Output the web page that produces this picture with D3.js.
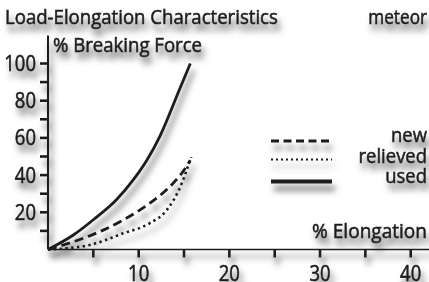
<!DOCTYPE html>
<html lang="en">
<head>
    <meta charset="UTF-8">
    <title>Load-Elongation Characteristics</title>
    <script src="https://d3js.org/d3.v7.min.js"></script>
    <style>
        body, html {
            margin: 0;
            padding: 0;
            background: #fff;
        }
        svg { display: block; }
        text {
            font-family: "Open Sans", "Lato", sans-serif;
            fill: #1c1c1c;
            stroke: #1c1c1c;
            stroke-width: 0.55px;
        }
    </style>
</head>
<body>
    <script>
        // Chart size
        const width = 429;
        const height = 282;

        // Data: [elongation %, % breaking force]
        const usedCurve = [[0, 0], [2.8, 7.8], [5, 16], [7.6, 27], [9.4, 37.4], [10.9, 48], [12.35, 61], [14.5, 86], [15.7, 100]];
        const newCurve = [[0, 0], [2.8, 4.2], [5.7, 9.6], [8.3, 15.9], [11.2, 24.8], [13.8, 35.6], [14.9, 42], [15.7, 48]];
        const relievedCurve = [[0, 0], [2, 0.6], [4.6, 2.4], [8.3, 8.7], [11.2, 14.1], [13.1, 21.2], [14.6, 33.8], [15.8, 50]];

        const xTicks = [5, 10, 15, 20, 25, 30, 35, 40];
        const xLabels = [10, 20, 30, 40];
        const yTicks = [10, 20, 30, 40, 50, 60, 70, 80, 90, 100];
        const yLabels = [20, 40, 60, 80, 100];

        const legendNames = ["new", "relieved", "used"];

        // narrow font look
        const squeezeWords = 0.93;
        const squeezeNums = 0.86;

        const svg = d3.select("body")
            .append("svg")
            .attr("width", width)
            .attr("height", height);

        // soft grey drop shadow under everything
        const filter = svg.append("defs").append("filter")
            .attr("id", "shadow")
            .attr("x", "-10%").attr("y", "-10%")
            .attr("width", "130%").attr("height", "140%");
        filter.append("feGaussianBlur").attr("in", "SourceAlpha").attr("stdDeviation", 3).attr("result", "blur");
        filter.append("feOffset").attr("in", "blur").attr("dx", 3).attr("dy", 7).attr("result", "off");
        filter.append("feFlood").attr("flood-color", "#5a5a5a").attr("flood-opacity", 0.95);
        filter.append("feComposite").attr("in2", "off").attr("operator", "in").attr("result", "sh");
        const merge = filter.append("feMerge");
        merge.append("feMergeNode").attr("in", "sh");
        merge.append("feMergeNode").attr("in", "SourceGraphic");

        const g = svg.append("g").attr("filter", "url(#shadow)");

        // Scales
        const x = d3.scaleLinear().domain([0, 40]).range([48, 410.7]);
        const y = d3.scaleLinear().domain([0, 100]).range([249.5, 63.5]);

        // condensed text helper
        function label(txt, px, py, size, anchor, sq) {
            return g.append("text")
                .attr("transform", `translate(${px},${py}) scale(${sq || squeezeWords},1)`)
                .attr("text-anchor", anchor || "start")
                .attr("font-size", size)
                .text(txt);
        }

        // Titles
        label("Load-Elongation Characteristics", 5, 24, 20);
        label("meteor", 427, 24, 20, "end", 0.86);
        label("% Breaking Force", 53, 52, 20);
        label("% Elongation", 427, 237.5, 20.5, "end");

        // Y axis
        g.append("line")
            .attr("x1", x(0)).attr("x2", x(0))
            .attr("y1", y(0)).attr("y2", y(115))
            .attr("stroke", "#1c1c1c").attr("stroke-width", 2);
        g.selectAll(".ytick")
            .data(yTicks)
            .enter()
            .append("line")
            .attr("class", "ytick")
            .attr("x1", x(0) - 8).attr("x2", x(0))
            .attr("y1", d => y(d)).attr("y2", d => y(d))
            .attr("stroke", "#1c1c1c").attr("stroke-width", 2.6);
        yLabels.forEach(d => label(d, 36, y(d) + 7.5, 21.5, "end", squeezeNums));

        // X axis
        g.append("line")
            .attr("x1", x(0)).attr("x2", width)
            .attr("y1", y(0)).attr("y2", y(0))
            .attr("stroke", "#1c1c1c").attr("stroke-width", 1.6);
        g.selectAll(".xtick")
            .data(xTicks)
            .enter()
            .append("line")
            .attr("class", "xtick")
            .attr("x1", d => x(d)).attr("x2", d => x(d))
            .attr("y1", y(0)).attr("y2", y(0) + 8)
            .attr("stroke", "#1c1c1c").attr("stroke-width", 2.6);
        xLabels.forEach(d => label(d, x(d), 281, 21.5, "middle", squeezeNums));

        // Curves
        const line = d3.line()
            .x(d => x(d[0]))
            .y(d => y(d[1]))
            .curve(d3.curveMonotoneX);

        const styles = [
            { data: newCurve, dash: "9,5", w: 2.8 },
            { data: relievedCurve, dash: "2.4,3.4", w: 2.6 },
            { data: usedCurve, dash: null, w: 2.8 }
        ];
        styles.forEach(s => {
            g.append("path")
                .attr("d", line(s.data))
                .attr("fill", "none")
                .attr("stroke", "#1c1c1c")
                .attr("stroke-width", s.w)
                .attr("stroke-dasharray", s.dash);
        });

        // Legend
        const legendY = [141, 159.5, 181.5];
        const legendStyle = [
            { dash: "8,4.5", w: 3 },
            { dash: "2,3", w: 2 },
            { dash: null, w: 4.2 }
        ];
        legendNames.forEach((name, i) => {
            g.append("line")
                .attr("x1", 271).attr("x2", 332)
                .attr("y1", legendY[i]).attr("y2", legendY[i])
                .attr("stroke", "#1c1c1c")
                .attr("stroke-width", legendStyle[i].w)
                .attr("stroke-dasharray", legendStyle[i].dash);
            label(name, 427, 142 + i * 20.5, 20.5, "end", 0.9);
        });
    </script>
</body>
</html>
